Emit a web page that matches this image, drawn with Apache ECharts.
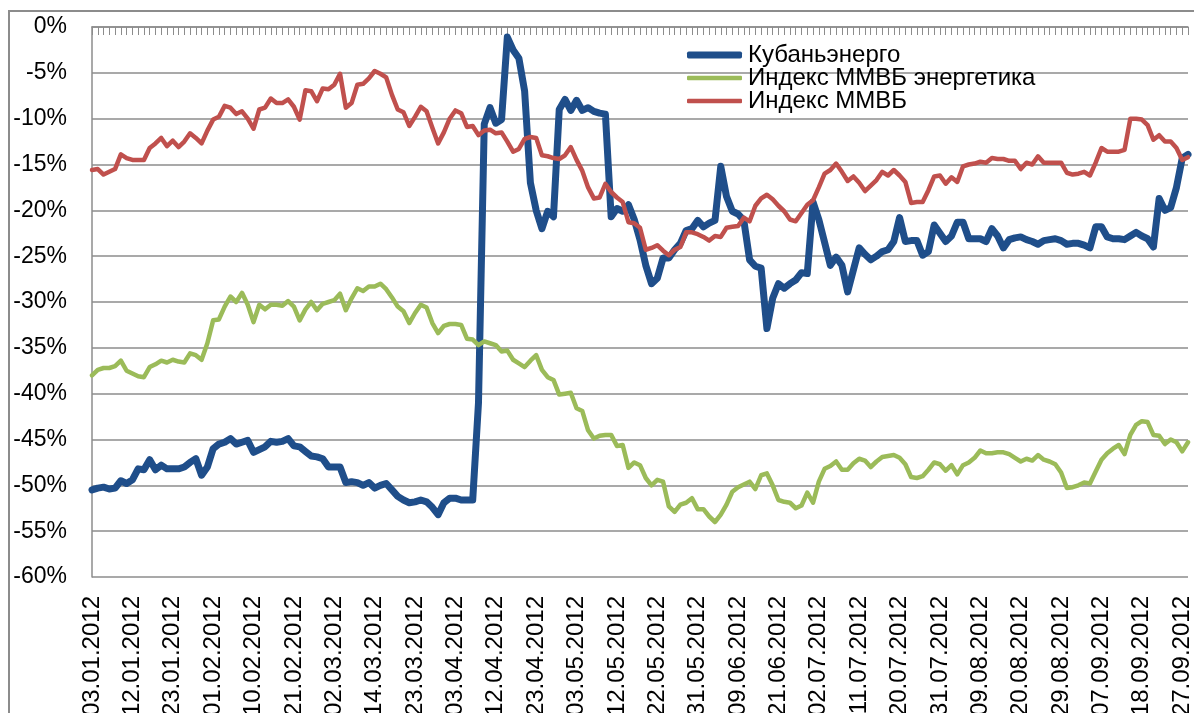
<!DOCTYPE html>
<html>
<head>
<meta charset="utf-8">
<script src="https://cdn.jsdelivr.net/npm/echarts@6/dist/echarts.min.js"></script>
<style>
  html, body { margin: 0; padding: 0; background: #fff; }
  #chart { width: 1194px; height: 713px; }
</style>
</head>
<body>
<div id="chart"></div>
<script>
// Trading dates (dd.mm, year 2012)
const dates = [
  '03.01','04.01','05.01','06.01','09.01','10.01','11.01',
  '12.01','13.01','16.01','17.01','18.01','19.01','20.01',
  '23.01','24.01','25.01','26.01','27.01','30.01','31.01',
  '01.02','02.02','03.02','06.02','07.02','08.02','09.02',
  '10.02','13.02','14.02','15.02','16.02','17.02','20.02',
  '21.02','22.02','24.02','27.02','28.02','29.02','01.03',
  '02.03','05.03','06.03','07.03','09.03','12.03','13.03',
  '14.03','15.03','16.03','19.03','20.03','21.03','22.03',
  '23.03','26.03','27.03','28.03','29.03','30.03','02.04',
  '03.04','04.04','05.04','06.04','09.04','10.04','11.04',
  '12.04','13.04','16.04','17.04','18.04','19.04','20.04',
  '23.04','24.04','25.04','26.04','27.04','28.04','02.05',
  '03.05','04.05','05.05','07.05','08.05','10.05','11.05',
  '12.05','14.05','15.05','16.05','17.05','18.05','21.05',
  '22.05','23.05','24.05','25.05','28.05','29.05','30.05',
  '31.05','01.06','04.06','05.06','06.06','07.06','08.06',
  '09.06','13.06','14.06','15.06','18.06','19.06','20.06',
  '21.06','22.06','25.06','26.06','27.06','28.06','29.06',
  '02.07','03.07','04.07','05.07','06.07','09.07','10.07',
  '11.07','12.07','13.07','16.07','17.07','18.07','19.07',
  '20.07','23.07','24.07','25.07','26.07','27.07','30.07',
  '31.07','01.08','02.08','03.08','06.08','07.08','08.08',
  '09.08','10.08','13.08','14.08','15.08','16.08','17.08',
  '20.08','21.08','22.08','23.08','24.08','27.08','28.08',
  '29.08','30.08','31.08','03.09','04.09','05.09','06.09',
  '07.09','10.09','11.09','12.09','13.09','14.09','17.09',
  '18.09','19.09','20.09','21.09','24.09','25.09','26.09',
  '27.09','28.09'
];
const categories = dates.map(d => d + '.2012');

const seriesNames = ['Кубаньэнерго', 'Индекс ММВБ энергетика', 'Индекс ММВБ'];

// Кубаньэнерго, % change
const kuban = [
  -50.5,-50.3,-50.2,-50.4,-50.3,-49.5,-49.8,-49.4,-48.2,-48.3,
  -47.2,-48.3,-47.8,-48.2,-48.2,-48.2,-48.0,-47.5,-47.1,-48.9,
  -48.0,-46.0,-45.5,-45.3,-44.9,-45.5,-45.3,-45.1,-46.4,-46.1,
  -45.8,-45.2,-45.3,-45.2,-44.9,-45.7,-45.8,-46.3,-46.8,-46.9,
  -47.1,-48.0,-48.0,-48.0,-49.7,-49.6,-49.7,-50.0,-49.7,-50.3,
  -50.0,-49.8,-50.5,-51.2,-51.6,-51.9,-51.8,-51.6,-51.8,-52.4,
  -53.2,-51.9,-51.4,-51.4,-51.6,-51.6,-51.6,-41.0,-10.6,-8.8,
  -10.5,-10.1,-1.1,-2.5,-3.4,-7.0,-17.0,-20.0,-22.0,-20.1,
  -20.7,-9.0,-7.9,-9.1,-8.0,-9.1,-8.8,-9.2,-9.4,-9.5,
  -20.7,-19.8,-20.1,-19.4,-21.0,-23.2,-26.0,-28.0,-27.4,-25.2,
  -25.2,-24.3,-23.6,-22.2,-22.0,-21.1,-21.8,-21.4,-21.1,-15.2,
  -18.5,-20.1,-20.4,-21.1,-25.4,-26.1,-26.3,-32.9,-29.6,-28.0,
  -28.5,-28.0,-27.6,-26.8,-26.9,-19.1,-21.0,-23.5,-26.0,-25.1,
  -26.0,-28.9,-26.5,-24.1,-24.8,-25.4,-25.0,-24.5,-24.3,-23.4,
  -20.8,-23.4,-23.3,-23.3,-24.9,-24.5,-21.6,-22.5,-23.4,-22.8,
  -21.3,-21.3,-23.1,-23.1,-23.1,-23.4,-22.0,-22.8,-24.1,-23.2,
  -23.0,-22.9,-23.2,-23.4,-23.7,-23.3,-23.2,-23.1,-23.3,-23.7,
  -23.6,-23.6,-23.8,-24.1,-21.8,-21.8,-22.9,-23.1,-23.1,-23.2,
  -22.8,-22.4,-22.8,-23.1,-24.0,-18.7,-20.0,-19.7,-17.5,-14.3,
  -13.9
];

// Индекс ММВБ энергетика, % change
const micexEnergy = [
  -38.0,-37.4,-37.2,-37.2,-37.0,-36.4,-37.5,-37.8,-38.1,-38.2,
  -37.1,-36.8,-36.4,-36.6,-36.3,-36.5,-36.6,-35.6,-35.8,-36.3,
  -34.5,-32.0,-31.9,-30.5,-29.4,-30.0,-29.0,-30.3,-32.2,-30.3,
  -30.8,-30.3,-30.3,-30.4,-29.9,-30.5,-32.0,-30.8,-30.0,-30.9,
  -30.2,-30.0,-29.8,-29.1,-30.9,-29.6,-28.5,-28.8,-28.3,-28.3,
  -28.0,-28.6,-29.5,-30.5,-31.0,-32.3,-31.2,-30.3,-30.6,-32.3,
  -33.4,-32.6,-32.4,-32.4,-32.5,-34.0,-34.1,-34.7,-34.3,-34.5,
  -34.7,-35.4,-35.3,-36.3,-36.7,-37.1,-36.4,-35.8,-37.4,-38.2,
  -38.5,-40.1,-40.0,-39.9,-41.6,-41.9,-44.0,-44.9,-44.6,-44.5,
  -44.5,-45.7,-45.6,-48.1,-47.5,-47.8,-49.2,-50.0,-49.4,-49.6,
  -52.3,-52.9,-52.1,-51.9,-51.4,-52.6,-52.6,-53.4,-54.0,-53.2,
  -52.1,-50.7,-50.2,-49.9,-49.6,-50.4,-48.9,-48.7,-50.0,-51.6,
  -51.8,-51.9,-52.5,-52.2,-50.8,-51.9,-49.6,-48.2,-47.9,-47.4,
  -48.3,-48.3,-47.6,-47.1,-47.3,-48.0,-47.4,-46.9,-46.8,-46.7,
  -47.0,-47.7,-49.1,-49.2,-49.0,-48.3,-47.5,-47.7,-48.4,-47.8,
  -48.8,-47.8,-47.5,-47.0,-46.2,-46.5,-46.5,-46.4,-46.4,-46.6,
  -47.0,-47.4,-47.1,-47.3,-46.7,-47.2,-47.4,-47.7,-48.6,-50.3,
  -50.2,-50.0,-49.7,-49.8,-48.5,-47.2,-46.5,-46.0,-45.6,-46.6,
  -44.5,-43.4,-43.0,-43.1,-44.5,-44.6,-45.5,-45.0,-45.3,-46.3,
  -45.3
];

// Индекс ММВБ, % change
const micex = [
  -15.6,-15.5,-16.1,-15.8,-15.5,-13.9,-14.3,-14.5,-14.5,-14.5,
  -13.2,-12.7,-12.1,-13.0,-12.4,-13.1,-12.5,-11.6,-12.1,-12.7,
  -11.3,-10.1,-9.8,-8.6,-8.8,-9.5,-9.2,-10.0,-11.1,-9.0,
  -8.8,-7.8,-8.3,-8.3,-7.9,-8.7,-10.1,-6.9,-7.0,-8.1,
  -6.7,-6.8,-6.3,-5.1,-8.8,-8.3,-6.3,-6.2,-5.6,-4.8,
  -5.1,-5.5,-7.4,-9.0,-9.3,-10.8,-9.8,-8.7,-9.2,-11.0,
  -12.7,-11.5,-10.0,-9.1,-9.4,-10.9,-10.8,-11.8,-11.3,-11.2,
  -11.6,-11.5,-12.5,-13.6,-13.3,-12.2,-12.0,-12.1,-14.0,-14.1,
  -14.3,-14.4,-14.0,-13.1,-14.5,-15.7,-17.5,-18.7,-18.6,-17.1,
  -18.0,-18.6,-19.1,-21.3,-21.4,-21.9,-24.3,-24.1,-23.8,-24.4,
  -24.9,-24.3,-24.0,-22.4,-22.4,-22.6,-22.9,-23.3,-22.8,-22.9,
  -21.9,-21.8,-21.7,-20.8,-21.2,-19.5,-18.7,-18.3,-18.8,-19.5,
  -20.1,-21.0,-21.2,-20.3,-19.4,-18.9,-17.5,-16.0,-15.6,-14.9,
  -15.8,-16.8,-16.3,-17.0,-17.9,-17.3,-16.7,-15.8,-16.2,-15.6,
  -16.2,-16.9,-19.2,-19.1,-19.1,-17.8,-16.3,-16.2,-17.1,-16.4,
  -16.9,-15.2,-15.0,-14.9,-14.7,-14.8,-14.3,-14.4,-14.4,-14.6,
  -14.6,-15.5,-14.8,-15.0,-14.1,-14.8,-14.8,-14.8,-14.8,-15.9,
  -16.1,-16.0,-15.8,-16.2,-14.8,-13.2,-13.6,-13.6,-13.6,-13.4,
  -10.0,-10.0,-10.1,-10.7,-12.3,-11.8,-12.5,-12.5,-13.2,-14.5,
  -14.2
];

const colors = ['#1F4E8A', '#9BBB59', '#C0504D'];
const widths = [7, 4.5, 4.5];
const seriesData = [kuban, micexEnergy, micex];
const legendRowCenters = [55, 78, 101];

const gray = '#8c8c8c';
const font = '"Liberation Sans", Arial, sans-serif';

const chart = echarts.init(document.getElementById('chart'));
chart.setOption({
  animation: false,
  backgroundColor: '#fff',
  graphic: [{
    type: 'rect',
    silent: true,
    z: -10,
    shape: { x: 9, y: 11, width: 1400, height: 900 },
    style: { fill: 'none', stroke: gray, lineWidth: 2 }
  }],
  grid: { left: 92, right: 6, top: 27, bottom: 136, containLabel: false, outerBoundsMode: 'none' },
  legend: seriesNames.map((name, k) => ({
    orient: 'vertical',
    left: 687,
    top: legendRowCenters[k] - 12,
    padding: 0,
    icon: 'roundRect',
    itemWidth: 55,
    itemHeight: widths[k],
    itemStyle: { color: colors[k] },
    textStyle: { fontSize: 24, fontFamily: font, color: '#000', lineHeight: 24, padding: [0, 0, 0, 1] },
    data: [name]
  })),
  xAxis: [
    {
      type: 'category',
      data: categories,
      boundaryGap: false,
      position: 'bottom',
      axisLine: { show: false, onZero: false },
      axisTick: { show: false },
      splitLine: { show: false },
      axisLabel: {
        interval: 6,
        rotate: 90,
        fontSize: 24,
        fontFamily: font,
        color: '#000',
        margin: 19
      }
    },
    {
      type: 'category',
      data: categories,
      boundaryGap: false,
      position: 'top',
      axisLine: { show: true, onZero: false, lineStyle: { color: gray, width: 1.5 } },
      axisTick: { show: true, inside: true, interval: 0, length: 8, lineStyle: { color: gray, width: 1 } },
      axisLabel: { show: false },
      splitLine: { show: false }
    }
  ],
  yAxis: {
    type: 'value',
    min: -60,
    max: 0,
    interval: 5,
    axisLine: { show: true, lineStyle: { color: gray, width: 1.5 } },
    axisTick: { show: false },
    axisLabel: {
      formatter: '{value}%',
      fontSize: 23,
      fontFamily: font,
      color: '#000',
      margin: 25
    },
    splitLine: { show: true, lineStyle: { color: gray, width: 1.5 } }
  },
  series: seriesNames.map((name, k) => ({
    name: name,
    type: 'line',
    xAxisIndex: 0,
    data: seriesData[k],
    symbol: 'none',
    smooth: false,
    lineStyle: { width: widths[k], color: colors[k], cap: 'round', join: 'round' },
    itemStyle: { color: colors[k] }
  }))
});
</script>
</body>
</html>
